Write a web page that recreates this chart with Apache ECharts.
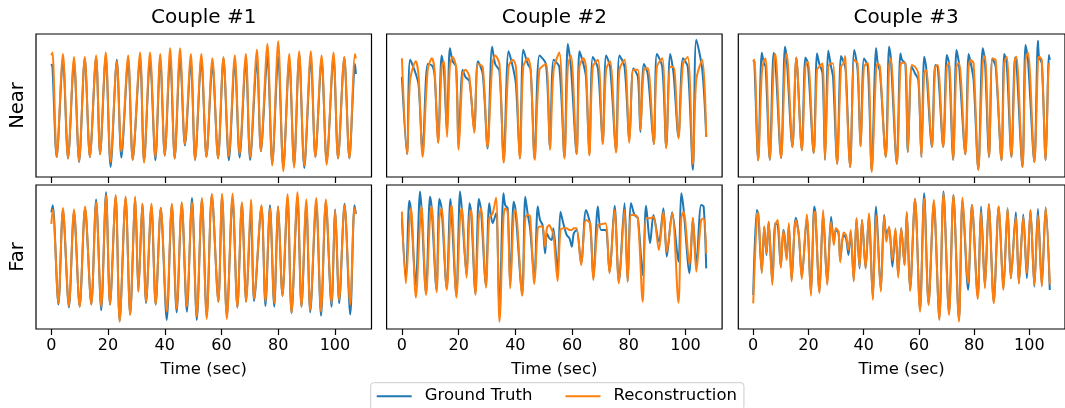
<!DOCTYPE html>
<html><head><meta charset="utf-8">
<script src="https://cdn.jsdelivr.net/npm/echarts@6/dist/echarts.min.js"></script>
<style>html,body{margin:0;padding:0;background:#fff}#c{width:1065px;height:408px}</style>
</head><body><div id="c"></div>
<script>
// ---- data (time in sec, signal in normalized units) ----
const coupleTitles = ['Couple #1', 'Couple #2', 'Couple #3'];
const rowLabels = ['Near', 'Far'];
const xTicks = [0, 20, 40, 60, 80, 100];
const seriesNames = ['Ground Truth', 'Reconstruction'];

const c1NearT = [0,0.4,1.9,4.1,5.9,8.0,9.8,11.8,13.6,15.8,17.2,19.2,20.9,23.1,24.7,27.1,28.7,31.3,32.7,34.8,36.7,38.4,40.0,41.9,43.5,45.4,47.1,49.2,50.7,52.9,54.7,56.8,58.8,60.7,62.6,64.7,66.4,68.6,70.1,72.5,73.9,76.2,77.9,80.0,81.8,83.9,85.6,87.4,89.2,91.5,93.1,95.3,97.1,99.5,101.1,103.3,105.1,107.1,107.4];
const c1NearGT = [79,77,14,82,13,80.6,10.5,83,14,84,16,84.6,7,82,13.6,82,12,83,11,82,11.7,83,15,84,13,84,22,80.6,12,82,14,79,13,83,11.7,80.6,13.6,82,12,82,18,84,9.3,84,6.5,82,8.2,86,6.3,83,14,82,10.5,84,13,83.6,13,79,72];
const c1NearRec = [85,87,14,86,13,84,11,84,14,85,16,87,10.5,81,17.5,85,12,87,10,87,14,86,15,90,13,90,23,86,12,86,14,83,13,84,14.5,85,16,86,14,89,18,93,8,95,4,86,6.5,88,8,88,14,85,8.6,87,13,84,13,86,83];

const c1FarT = [0,0.5,2.5,4.1,6.2,8.0,10.0,11.9,14.1,15.8,17.6,19.3,20.7,22.7,24.1,26.2,27.8,29.6,30.7,32.1,33.4,35.3,36.8,38.6,40.7,42.5,44.2,46.0,47.8,49.6,51.3,53.1,54.8,56.6,58.9,60.2,61.9,63.9,65.6,67.2,68.7,70.4,71.5,74.1,75.5,77.1,78.6,80.0,81.5,83.3,84.7,86.8,88.2,89.9,91.3,93.4,95.1,96.8,98.8,100.1,101.5,103.4,105.4,106.9,107.4];
const c1FarGT = [81,86,17,83,15,81.5,15.5,84,17,90,13,95,17,92,5.6,91,10,91,26,87,18,85,17,84,6.3,86,11.6,87,12,91,6.3,90,8.6,93,19,92,8.6,91,15,87,19,81.5,19.4,85,16,86,15.5,85,23,91,11,91,15.5,86,11.6,88,9.3,88,15.5,83,18,87,10,86,80];
const c1FarRec = [73,83,18,84,16,83,15.5,85,17,88,15.5,93,17,93,5,92,10,92,26,87,19,87,17,84,12,87,14,88,15.5,88,8.6,91,7,94,19,94,7,94,15,88,19,90,21,86,19,84,18,85,23,93.5,11,95,15.5,90,13,91,12,90,18,83,20,86,17,84,80];

const c2NearT = [0,1.8,2.9,4.9,5.9,7.3,9.1,10.6,11.5,12.8,14.0,14.8,15.9,16.9,17.9,19.1,20.0,21.4,22.4,23.8,25.5,26.8,28.5,30.2,31.8,32.9,34.4,35.9,37.6,39.1,40.2,41.6,42.8,44.4,45.4,46.8,48.5,50.8,52.2,53.5,55.5,57.3,58.5,59.6,61.6,62.6,64.0,64.9,66.1,67.3,69.1,70.8,72.0,73.4,75.5,76.7,78.5,80.2,81.6,83.2,84.1,85.3,86.7,88.8,89.9,91.8,93.2,94.6,95.8,97.5,99.1,100.8,102.6,103.8,105.9,107.3];
const c2NearGT = [70,16,82,72,64,17.5,79,78,72,24,85,75,31,90,81,77,23,75,70,67,33,81,72,20,91,79,74,12,88,77,65,13,89,79,75,13,85,79,21,82,77,14,93,77,16,88,79,70,16,84,76,24.5,85,77,19,85,77,26,76,70,31.5,79,72,23,86,77,21,86,72,28,83,77,5,96,75,28];
const c2NearRec = [83,16,68,81,70,14,75,83,75,24,77,81,28,77,84,77,19,72,75,70,31,79,77,21,77,85,79,10,77,82,77,13,77,83,75,12,75,79,19,75,87,13,77,85,16,77,83,77,15,77,82,23,75,81,17,75,82,24,75,75,33,75,76,23,77,83,20,77,77,27,79,84,9,68,82,28];

const c2FarT = [0,1.4,2.6,3.2,4.9,6.4,6.9,8.5,9.9,10.5,12.2,13.2,14.0,15.8,17.1,17.5,19.2,20.5,21.1,22.8,23.8,24.4,25.9,27.1,27.9,29.6,30.8,32.0,33.2,34.4,35.8,36.4,37.3,38.2,39.4,40.0,42.4,43.5,44.4,45.2,46.7,47.9,48.7,49.6,50.5,51.1,52.0,52.8,53.4,54.9,55.9,56.9,58.1,59.1,59.9,60.6,61.6,63.2,64.9,66.4,67.5,69.1,70.2,71.8,73.2,75.0,76.5,78.5,79.6,80.8,82.0,83.2,84.9,86.1,87.5,88.7,90.6,92.2,93.4,95.3,97.5,98.5,99.3,101.4,102.6,103.8,105.5,106.4,107.3];
const c2FarGT = [76.9,35,89,81.5,30.6,95.4,83.8,24.8,91.9,83.8,27.1,90.3,83.8,28.2,90.3,81.5,23.6,95.4,83.8,37.5,87.3,81.5,24.8,90.3,82.6,30.6,87.3,73.4,80.3,9.7,94.2,86.1,83.8,30.6,88.4,83.8,24.8,91.9,79.2,69.9,35.2,85,75.7,72.2,52.5,66.4,63,61.8,69.9,39.8,81.5,73.4,65.3,63,57.2,66.4,68.8,45.6,82.6,72.2,35.2,85,68.8,68.8,39.8,85.6,32.9,87.3,32.9,87.3,79.2,76.9,37.5,85.6,59.5,79.2,60.6,83.8,50.2,81,46.8,94.2,83.8,38.7,76.9,44.4,86.1,85,42.1];
const c2FarRec = [81.5,31.7,72,84,21.8,74.5,85,23.6,76.9,85,25.5,76.9,83.8,27.1,79.2,86.1,21.8,76.9,83.8,35.6,76.9,82.6,23.6,76.9,83.8,28.7,76.9,80.3,91.2,5.1,76.9,83.8,81.5,28.2,79.2,82.6,23.1,76.9,79.6,78,31.3,69.9,71.1,71.1,57.2,69.9,72.2,68.8,66.4,33.3,68.8,69.9,69.9,68.8,68.8,69.9,69.9,44.4,75.7,73.4,34,72.2,72.7,73.4,38.7,82.6,31.7,82.6,32.9,79.2,79.2,76.9,19,76.9,76.9,78,54.9,81.5,53.7,80.3,18.3,76.9,81.5,44.4,77.3,39.8,75.7,76.9,52.5];

const c3NearT = [0,0.4,1.8,3.1,3.9,4.5,6.0,7.4,8.0,10.1,11.5,12.1,14.2,15.6,17.6,18.9,19.8,21.9,23.1,23.9,25.1,26.0,27.2,28.2,28.9,30.4,31.8,32.7,33.3,33.6,35.1,36.6,37.8,38.9,40.1,41.5,42.9,44.5,45.1,45.9,48.0,49.2,49.8,52.0,53.3,53.9,55.1,56.0,57.4,58.6,59.8,60.9,61.9,62.6,64.7,65.9,66.8,68.8,70.1,70.9,72.4,73.6,74.5,76.8,78.0,78.8,79.8,81.5,83.1,83.9,85.4,86.6,87.8,89.9,90.9,91.8,93.5,94.8,95.3,97.5,98.6,99.5,101.8,103.1,103.5,104.5,105.9,107.1,107.4];
const c3NearGT = [81.8,80.6,11.7,86.9,79.4,77.1,12.1,86.9,81.8,13.3,91.1,84.1,21,83.6,18.7,83.6,79.4,16.8,86.4,79.4,72.4,12.1,88.3,77.1,70.1,9.3,84.6,80.6,77.1,72.4,7,88.8,74.8,21.5,82.9,77.1,4.7,90,79.4,73.6,14,91.1,84.1,9.3,86.4,81.8,79.4,17.5,77.1,72.4,67.8,14,84.1,77.1,21,78.3,77.1,21,85.3,79.4,12.1,88.8,79.4,15.9,86,79.4,67.8,5.1,90,81.8,14,82.9,77.1,11.7,86,79.4,14,83.6,80.6,7,92.3,81.8,10.5,95.3,84.1,79.4,11.7,85.3,81.8];
const c3NearRec = [80.6,82.2,11.7,72.4,81.8,82.9,12.1,77.1,86,13.3,79.4,86.4,21,83.6,18.7,77.1,80.6,16.8,74.8,77.1,79.4,12.1,77.1,79.4,79.4,9.3,77.1,79.4,84.6,68.2,7,81.8,79.4,21.5,77.1,79.9,3.5,74.8,79.4,77.1,14,77.1,82.9,9.3,77.1,79.9,79.9,17.5,78.3,77.1,72.4,14,72.4,74.8,21,77.1,78.3,21,77.1,79.9,12.1,77.1,79.9,15.9,77.1,81.8,79.4,5.1,79.4,84.6,14,82.9,81.8,11.7,79.4,84.1,14,82.9,84.1,7,81.8,86.9,10.5,80.6,84.1,81.8,11.7,79.4,79.4];

const c3FarT = [0,1.3,1.8,3.1,4.0,4.8,5.6,6.9,8.0,8.9,10.0,10.9,11.3,12.1,12.9,13.9,15.4,16.5,17.6,19.4,20.9,22.1,22.5,24.0,25.3,26.8,28.2,29.2,29.9,30.9,31.5,32.7,33.6,34.5,35.3,36.4,37.4,38.5,39.4,40.7,41.9,43.3,44.5,46.2,47.4,48.2,49.2,50.4,51.5,52.5,53.6,54.8,55.6,56.8,58.6,60.4,61.9,63.5,65.4,67.4,68.9,70.9,72.5,74.5,75.8,77.8,79.2,81.3,82.5,83.9,85.3,87.1,88.9,90.6,92.1,93.3,95.1,96.2,97.8,99.1,100.4,101.8,103.1,104.5,105.9,107.4];
const c3FarGT = [23.6,82.6,80.3,39.8,71.1,51.4,74.5,32.9,73.4,72.2,43.3,68.8,65.3,49.1,72.2,34,77.3,65.3,36.3,76.9,24.8,85,81,25.9,80.3,31.7,78,60.6,68.8,66.4,47.9,65.3,63,51.4,67.6,34,76.9,42.1,75.7,42.1,79.2,21.3,85,27.1,79.2,66.4,69.9,43.3,68.8,37.5,69.9,44.4,81,27.1,90.3,13.2,94.2,17.8,87.3,7.4,95.4,10.9,93.1,6.3,89.6,27.1,86.1,22.5,85,29.4,86.6,19,85,28.2,83.8,35.2,81,31.7,79.6,35.2,82.6,29.4,83.3,30.6,84.3,27.1];
const c3FarRec = [17.8,76.9,81,38.7,71.1,52.5,74.5,30.6,72.2,75.7,42.6,68.1,64.1,47.9,73.4,32.9,75.7,66.4,34.7,79.6,23.1,81.5,81,24.8,82.6,30.6,74.5,58.3,69.9,67.6,46.3,67.1,65.3,54.9,68.8,32.9,76.9,43.3,75.7,42.1,80.3,20.1,79.2,25.9,78.5,60.6,71.1,47.9,69.9,35.6,69.9,44.4,81,26.4,90.3,12,90.7,16.7,89.6,6.3,94.2,9.7,93.1,5.1,91.2,31.7,86.1,20.8,81.5,28.2,86.6,17.8,85,27.1,83.8,35.2,78,31.7,78,38.7,82.6,30.6,79.2,29.4,84.3,31];

// ---- layout ----
const panels = [
  {t: c1NearT, gt: c1NearGT, rec: c1NearRec},
  {t: c2NearT, gt: c2NearGT, rec: c2NearRec},
  {t: c3NearT, gt: c3NearGT, rec: c3NearRec},
  {t: c1FarT, gt: c1FarGT, rec: c1FarRec},
  {t: c2FarT, gt: c2FarGT, rec: c2FarRec},
  {t: c3FarT, gt: c3FarGT, rec: c3FarRec}
];
const colLeft = [36, 386.6, 738.3];
const colWidth = 335.5;
const rowTop = [34, 185];
const rowHeight = [143, 144];
const FONT = 'DejaVu Sans';
const BLUE = '#1f77b4', ORANGE = '#ff7f0e';

const grid = [], xAxis = [], yAxis = [], series = [];
panels.forEach((p, i) => {
  const r = Math.floor(i / 3), c = i % 3;
  grid.push({left: colLeft[c], top: rowTop[r], width: colWidth, height: rowHeight[r],
    show: true, borderColor: '#000', borderWidth: 1.2, backgroundColor: 'transparent', containLabel: false});
  xAxis.push({type: 'value', gridIndex: i, min: -5.4, max: 112.9,
    axisLine: {show: false}, splitLine: {show: false},
    axisTick: {show: true, customValues: xTicks, length: 6, lineStyle: {color: '#000', width: 1.2}},
    axisLabel: {show: r === 1, customValues: xTicks, fontSize: 16, color: '#000', fontFamily: FONT, margin: 9},
    name: r === 1 ? 'Time (sec)' : '', nameLocation: 'middle', nameGap: 32,
    nameTextStyle: {fontSize: 16.5, color: '#000', fontFamily: FONT}});
  yAxis.push({type: 'value', gridIndex: i, min: 0, max: 100, show: false});
  series.push({name: seriesNames[0], type: 'line', xAxisIndex: i, yAxisIndex: i,
    data: p.t.map((t, k) => [t, p.gt[k]]), showSymbol: false, symbol: 'none', smooth: 0.3,
    lineStyle: {color: BLUE, width: 2}, itemStyle: {color: BLUE}, animation: false, z: 2});
  series.push({name: seriesNames[1], type: 'line', xAxisIndex: i, yAxisIndex: i,
    data: p.t.map((t, k) => [t, p.rec[k]]), showSymbol: false, symbol: 'none', smooth: 0.3,
    lineStyle: {color: ORANGE, width: 2}, itemStyle: {color: ORANGE}, animation: false, z: 3});
});

const graphic = [];
coupleTitles.forEach((txt, c) => {
  graphic.push({type: 'text', x: colLeft[c] + colWidth / 2, y: 18,
    style: {text: txt, font: '20px "' + FONT + '"', fill: '#000', align: 'center', verticalAlign: 'middle'}});
});
rowLabels.forEach((txt, r) => {
  graphic.push({type: 'text', x: 18, y: rowTop[r] + rowHeight[r] / 2, rotation: Math.PI / 2,
    style: {text: txt, font: '19.5px "' + FONT + '"', fill: '#000', align: 'center', verticalAlign: 'middle'}});
});

const chart = echarts.init(document.getElementById('c'), null, {renderer: 'canvas'});
chart.setOption({
  animation: false,
  backgroundColor: '#fff',
  grid, xAxis, yAxis, series, graphic,
  legend: {data: seriesNames, left: 370.7, top: 382.7, orient: 'horizontal',
    icon: 'rect', itemWidth: 35, itemHeight: 2, itemGap: 33,
    padding: [5, 7, 5, 6], borderColor: '#cccccc', borderWidth: 1, borderRadius: 3,
    backgroundColor: '#fff',
    textStyle: {fontSize: 16.5, color: '#000', fontFamily: FONT, padding: [0, 0, 0, 8]}}
});
</script></body></html>
